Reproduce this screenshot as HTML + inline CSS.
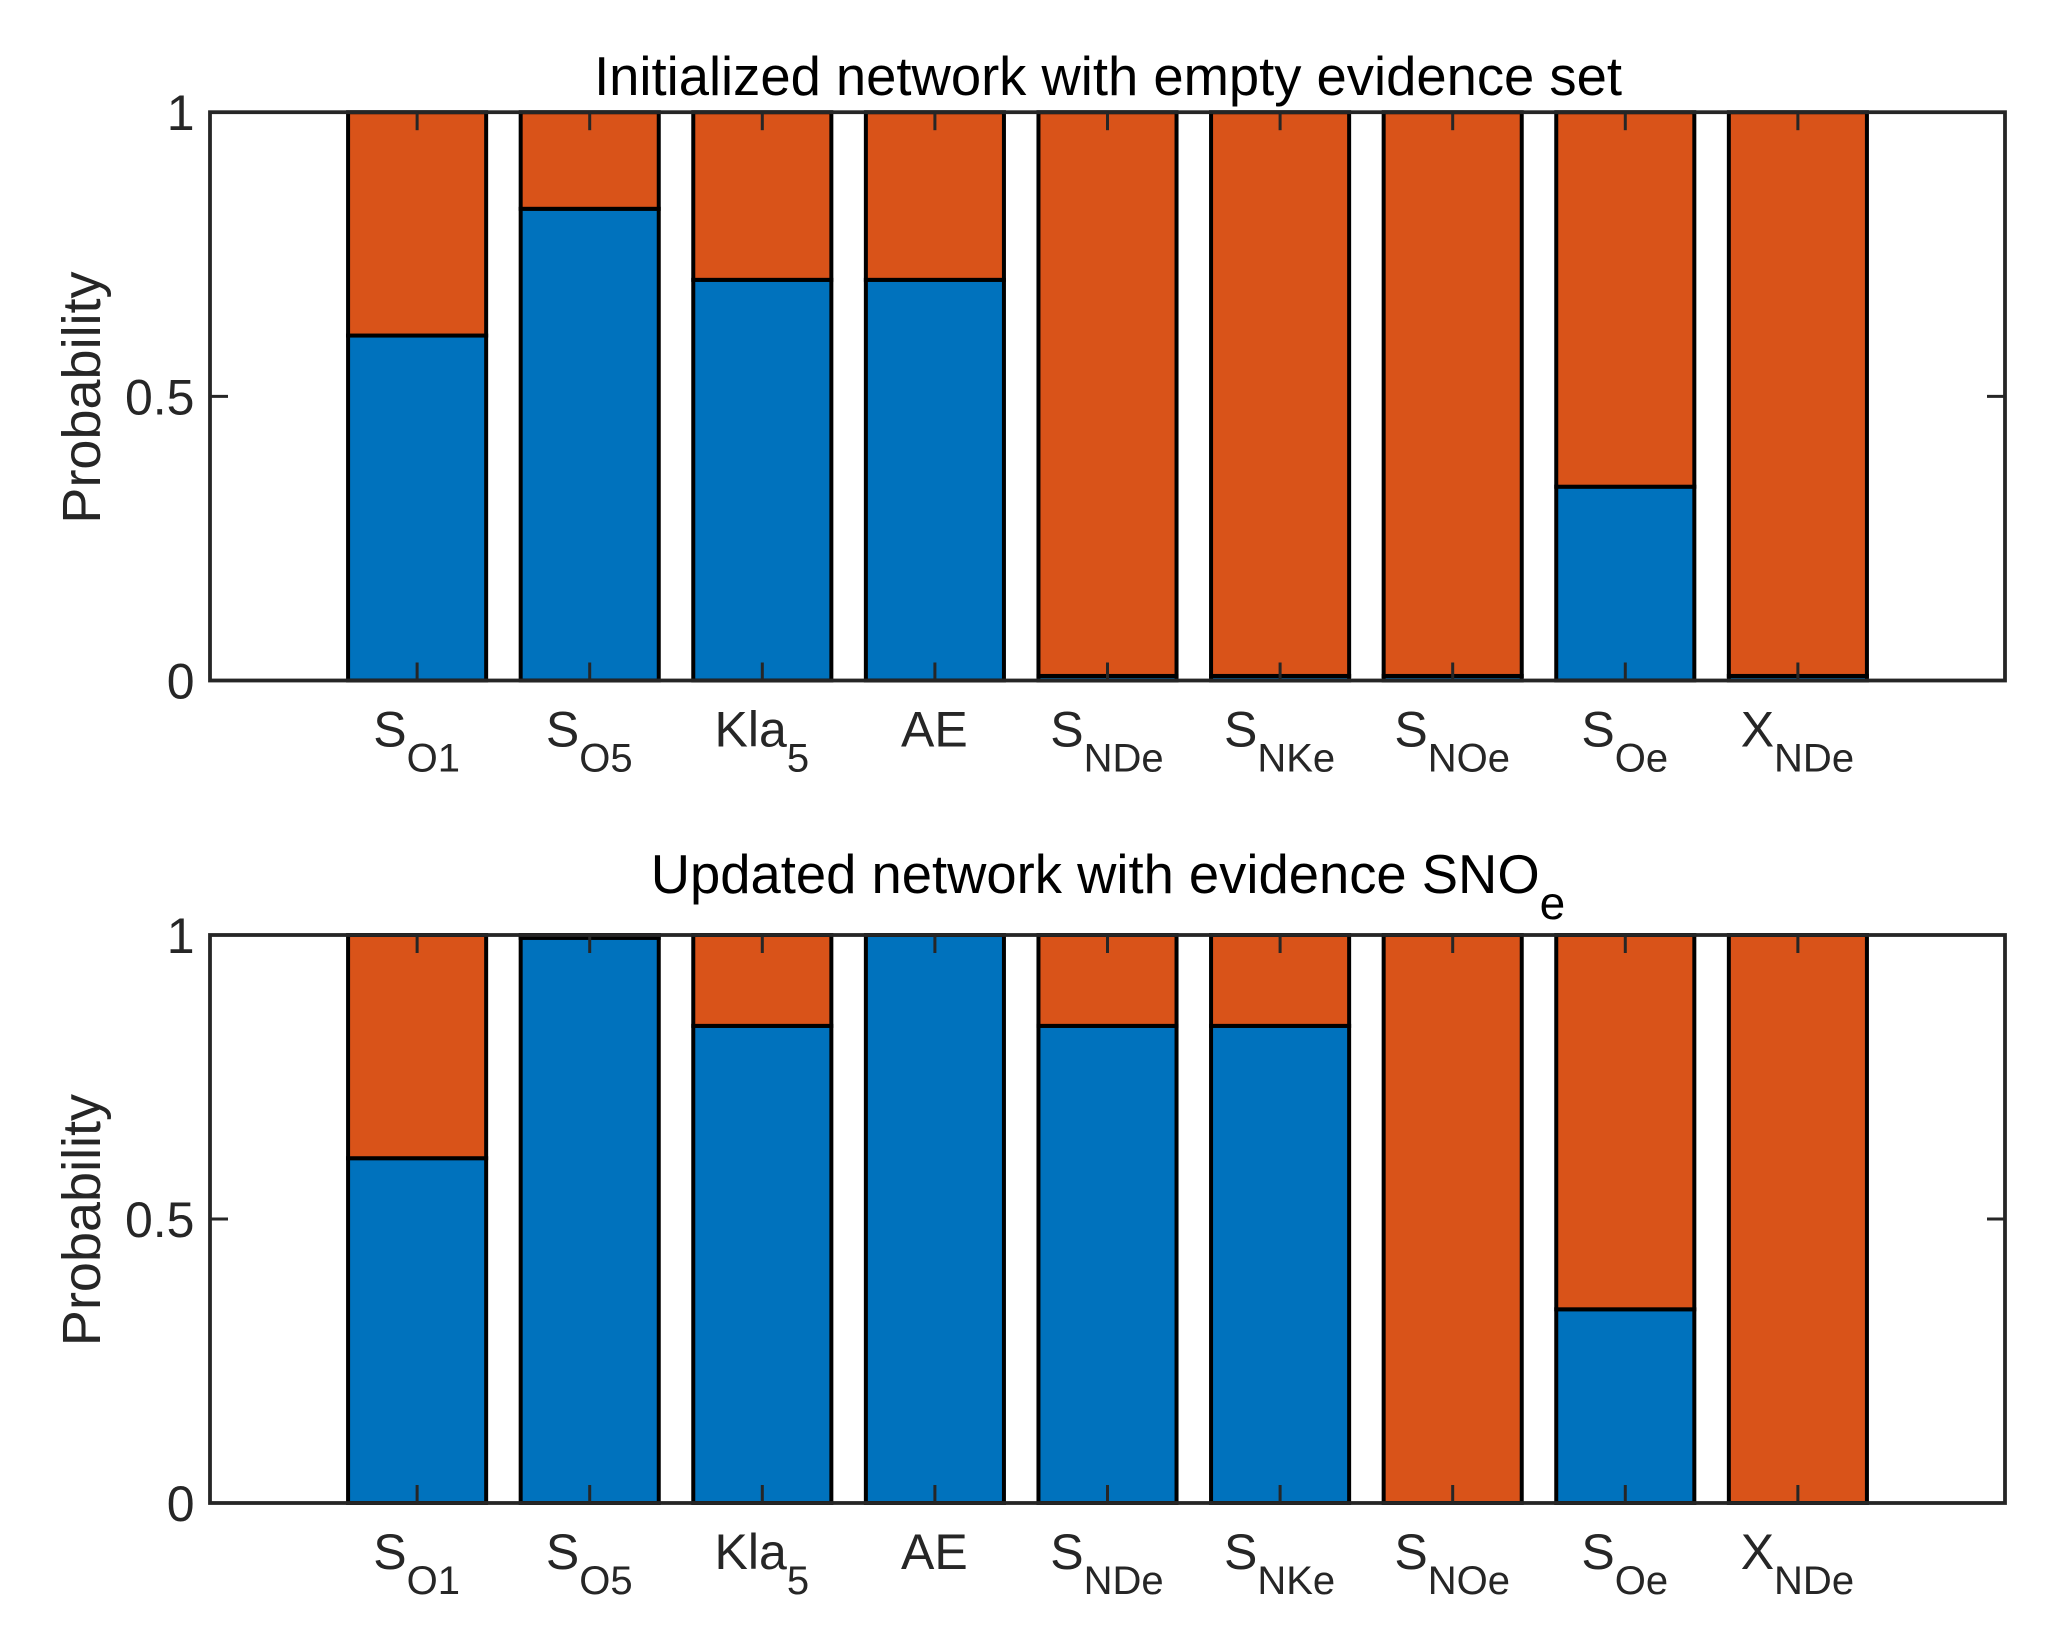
<!DOCTYPE html>
<html lang="en">
<head>
<meta charset="utf-8">
<title>Network probability bars</title>
<style>
html,body{margin:0;padding:0;background:#fff;}
svg{display:block;font-family:"Liberation Sans",Arial,sans-serif;}
</style>
</head>
<body>
<svg id="chart" width="2070" height="1649" viewBox="0 0 2070 1649" xmlns="http://www.w3.org/2000/svg">
  <rect x="0" y="0" width="2070" height="1649" fill="#ffffff"/>
  <text x="1108" y="95" font-size="54.4" text-anchor="middle" fill="#000000">Initialized network with empty evidence set</text>
  <text x="1108" y="893" font-size="54.4" text-anchor="middle" fill="#000000">Updated network with evidence SNO<tspan dy="26" font-size="46">e</tspan></text>
  <text transform="translate(100,397.5) rotate(-90)" font-size="54" text-anchor="middle" fill="#262626">Probability</text>
  <text transform="translate(100,1220) rotate(-90)" font-size="54" text-anchor="middle" fill="#262626">Probability</text>
  <g id="top-panel"></g>
  <g id="bottom-panel"></g>
</svg>
<script>
const categoryNames = ['S', 'S', 'Kla', 'AE', 'S', 'S', 'S', 'S', 'X'];
const categorySubscripts = ['O1', 'O5', '5', '', 'NDe', 'NKe', 'NOe', 'Oe', 'NDe'];
const categoryIds = ['so1', 'so5', 'kla5', 'ae', 'snde', 'snke', 'snoe', 'soe', 'xnde'];
const yTickValues = [0, 0.5, 1];
const yTickLabels = ['0', '0.5', '1'];
const initialBlue = [0.607, 0.83, 0.705, 0.705, 0.008, 0.008, 0.008, 0.341, 0.008];
const initialOrange = [0.393, 0.17, 0.295, 0.295, 0.992, 0.992, 0.992, 0.659, 0.992];
const updatedBlue = [0.607, 0.995, 0.84, 1, 0.84, 0.84, 0, 0.341, 0];
const updatedOrange = [0.393, 0.005, 0.16, 0, 0.16, 0.16, 1, 0.659, 1];

const NS = 'http://www.w3.org/2000/svg';
const INK = '#262626';
const PLOT_LEFT = 210;
const PLOT_RIGHT = 2005;
const X_MIN = -0.2;
const X_MAX = 10.2;
const BAR_WIDTH = 0.8;
const TICK_LENGTH = 18;

function make(tag, attrs) {
  const el = document.createElementNS(NS, tag);
  Object.keys(attrs).forEach(function (k) { el.setAttribute(k, attrs[k]); });
  return el;
}

function xScale(v) {
  return PLOT_LEFT + (v - X_MIN) / (X_MAX - X_MIN) * (PLOT_RIGHT - PLOT_LEFT);
}

function drawPanel(parent, prefix, top, bottom, blue, orange) {
  const yScale = function (v) { return bottom - v * (bottom - top); };

  categoryNames.forEach(function (name, i) {
    const pos = i + 1;
    const left = xScale(pos - BAR_WIDTH / 2);
    const width = xScale(pos + BAR_WIDTH / 2) - left;
    const blueTop = yScale(blue[i]);
    const orangeTop = yScale(blue[i] + orange[i]);

    const lower = make('rect', { x: left, y: blueTop, width: width, height: bottom - blueTop, fill: '#0072BD', stroke: '#000000', 'stroke-width': 4 });
    
    
    parent.appendChild(lower);

    const upper = make('rect', { x: left, y: orangeTop, width: width, height: blueTop - orangeTop, fill: '#D95319', stroke: '#000000', 'stroke-width': 4 });
    
    
    parent.appendChild(upper);
  });

  const box = make('rect', { x: PLOT_LEFT, y: top, width: PLOT_RIGHT - PLOT_LEFT, height: bottom - top, fill: 'none', stroke: INK, 'stroke-width': 3.8 });
  
  
  parent.appendChild(box);

  categoryNames.forEach(function (name, i) {
    const x = xScale(i + 1);

    const tickBottom = make('line', { x1: x, x2: x, y1: bottom, y2: bottom - TICK_LENGTH, stroke: INK, 'stroke-width': 3 });
    
    
    parent.appendChild(tickBottom);

    const tickTop = make('line', { x1: x, x2: x, y1: top, y2: top + TICK_LENGTH, stroke: INK, 'stroke-width': 3 });
    
    
    parent.appendChild(tickTop);

    const label = make('text', { x: x - 0.5, y: bottom + 66, 'font-size': 50, 'text-anchor': 'middle', fill: INK });
    
    
    label.appendChild(document.createTextNode(name));
    if (categorySubscripts[i]) {
      const sub = make('tspan', { dy: 25, 'font-size': 40 });
      sub.textContent = categorySubscripts[i];
      label.appendChild(sub);
    }
    parent.appendChild(label);
  });

  yTickValues.forEach(function (v, i) {
    const y = yScale(v);

    if (v > 0 && v < 1) {
      const tickLeft = make('line', { x1: PLOT_LEFT, x2: PLOT_LEFT + TICK_LENGTH, y1: y, y2: y, stroke: INK, 'stroke-width': 3 });
      
      
      parent.appendChild(tickLeft);

      const tickRight = make('line', { x1: PLOT_RIGHT, x2: PLOT_RIGHT - TICK_LENGTH, y1: y, y2: y, stroke: INK, 'stroke-width': 3 });
      
      
      parent.appendChild(tickRight);
    }

    const label = make('text', { x: 194.5, y: y + 18, 'font-size': 50, 'text-anchor': 'end', fill: INK });
    
    
    label.textContent = yTickLabels[i];
    parent.appendChild(label);
  });
}

drawPanel(document.getElementById('top-panel'), 'top', 112.2, 680.5, initialBlue, initialOrange);
drawPanel(document.getElementById('bottom-panel'), 'bottom', 935, 1503, updatedBlue, updatedOrange);
</script>
</body>
</html>
